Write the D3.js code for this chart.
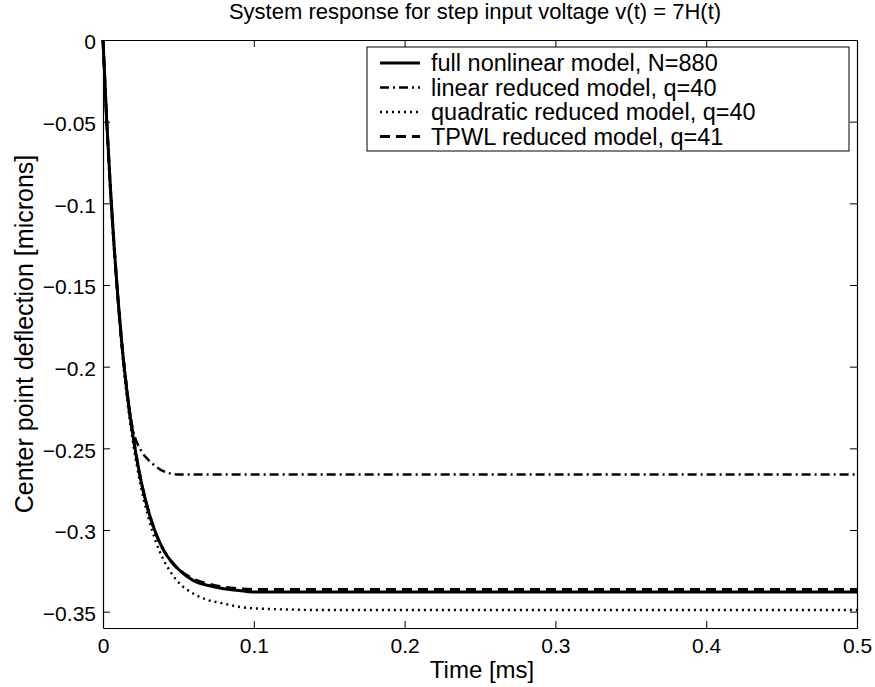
<!DOCTYPE html>
<html>
<head>
<meta charset="utf-8">
<script src="https://cdn.jsdelivr.net/npm/d3@7"></script>
<style>
  body { margin: 0; background: #fff; }
  text { font-family: "Liberation Sans", Arial, sans-serif; fill: #000; }
</style>
</head>
<body>
<div id="chart"></div>
<script>
var width = 875, height = 687;
var margin = {top: 40, right: 18, bottom: 59, left: 103};

// time samples [ms]
var timeMs = [0, 0.0025, 0.005, 0.0075, 0.01, 0.0125, 0.015, 0.0175, 0.02, 0.025, 0.03, 0.035, 0.04, 0.045, 0.05, 0.06, 0.07, 0.08, 0.09, 0.1, 0.15, 0.2, 0.25, 0.3, 0.35, 0.4, 0.45, 0.5];

// center point deflection [microns]
var fullNonlinear = [0, -0.050, -0.092, -0.128, -0.159, -0.186, -0.208, -0.227, -0.243, -0.269, -0.288, -0.302, -0.312, -0.319, -0.324, -0.331, -0.334, -0.336, -0.337, -0.338, -0.338, -0.338, -0.338, -0.338, -0.338, -0.338, -0.338, -0.338];
var linearReduced = [0, -0.050, -0.092, -0.128, -0.159, -0.186, -0.208, -0.226, -0.239, -0.251, -0.257, -0.261, -0.264, -0.2655, -0.266, -0.266, -0.266, -0.266, -0.266, -0.266, -0.266, -0.266, -0.266, -0.266, -0.266, -0.266, -0.266, -0.266];
var quadraticReduced = [0, -0.050, -0.093, -0.130, -0.161, -0.189, -0.212, -0.231, -0.247, -0.273, -0.292, -0.307, -0.318, -0.326, -0.332, -0.339, -0.343, -0.345, -0.347, -0.348, -0.349, -0.349, -0.349, -0.349, -0.349, -0.349, -0.349, -0.349];
var tpwlReduced = [0, -0.050, -0.092, -0.128, -0.159, -0.186, -0.208, -0.227, -0.243, -0.269, -0.288, -0.302, -0.312, -0.319, -0.324, -0.330, -0.333, -0.335, -0.336, -0.3365, -0.3365, -0.3365, -0.3365, -0.3365, -0.3365, -0.3365, -0.3365, -0.3365];

var xTicks = [0, 0.1, 0.2, 0.3, 0.4, 0.5];
var yTicks = [0, -0.05, -0.1, -0.15, -0.2, -0.25, -0.3, -0.35];

var seriesNames = ["full nonlinear model, N=880", "linear reduced model, q=40", "quadratic reduced model, q=40", "TPWL reduced model, q=41"];
var seriesValues = [fullNonlinear, linearReduced, quadraticReduced, tpwlReduced];
var seriesDash = ["none", "9,4,2,4", "2,4", "10,6"];
var seriesWidth = [3, 2.5, 2.4, 3];

var plotW = width - margin.left - margin.right;
var plotH = height - margin.top - margin.bottom;

var xScale = d3.scaleLinear().domain([0, 0.5]).range([0, plotW]);
var yScale = d3.scaleLinear().domain([-0.36, 0]).range([plotH, 0]);

var svg = d3.select("#chart").append("svg")
	.attr("width", width)
	.attr("height", height);

var g = svg.append("g")
	.attr("transform", "translate(" + margin.left + "," + margin.top + ")");

// curves
var line = d3.line()
	.x(function (d) { return xScale(d.t); })
	.y(function (d) { return yScale(d.v); })
	.curve(d3.curveMonotoneX);

seriesValues.forEach(function (vals, k) {
	var pts = timeMs.map(function (t, i) { return {t: t, v: vals[i]}; });
	g.append("path")
		.datum(pts)
		.attr("fill", "none")
		.attr("stroke", "#000")
		.attr("stroke-width", seriesWidth[k])
		.attr("stroke-dasharray", seriesDash[k])
		.attr("d", line);
});

// axes: ticks point inward on all four sides
var fmt = function (d) { return d === 0 ? "0" : d3.format("")(d).replace("-", "\u2212"); };

var xBottom = g.append("g").attr("transform", "translate(0," + plotH + ")")
	.call(d3.axisBottom(xScale).tickValues(xTicks).tickSizeInner(-7).tickSizeOuter(0).tickPadding(10).tickFormat(fmt));
var xTop = g.append("g")
	.call(d3.axisTop(xScale).tickValues(xTicks).tickSizeInner(-7).tickSizeOuter(0).tickFormat(""));
var yLeft = g.append("g")
	.call(d3.axisLeft(yScale).tickValues(yTicks).tickSizeInner(-7).tickSizeOuter(0).tickPadding(7).tickFormat(fmt));
var yRight = g.append("g").attr("transform", "translate(" + plotW + ",0)")
	.call(d3.axisRight(yScale).tickValues(yTicks).tickSizeInner(-7).tickSizeOuter(0).tickFormat(""));

[xBottom, xTop, yLeft, yRight].forEach(function (a) {
	a.select(".domain").attr("stroke", "#000").attr("stroke-width", 1.2);
	a.selectAll(".tick line").attr("stroke", "#000");
	a.selectAll("text")
		.style("font-family", "'Liberation Sans', Arial, sans-serif")
		.style("font-size", "21px")
		.attr("fill", "#000");
});
yLeft.selectAll("text").attr("dy", "0.42em");

// titles
svg.append("text")
	.attr("x", margin.left + plotW / 2 - 5)
	.attr("y", 19)
	.attr("text-anchor", "middle")
	.style("font-size", "22px")
	.text("System response for step input voltage v(t) = 7H(t)");

svg.append("text")
	.attr("x", margin.left + plotW / 2 + 2)
	.attr("y", 678)
	.attr("text-anchor", "middle")
	.style("font-size", "24px")
	.text("Time [ms]");

svg.append("text")
	.attr("transform", "translate(33," + (margin.top + plotH / 2) + ") rotate(-90)")
	.attr("text-anchor", "middle")
	.style("font-size", "25px")
	.text("Center point deflection [microns]");

// legend
var lg = g.append("g").attr("transform", "translate(" + (367 - margin.left) + "," + (47 - margin.top) + ")");
lg.append("rect")
	.attr("width", 482)
	.attr("height", 104)
	.attr("fill", "#fff")
	.attr("stroke", "#000")
	.attr("stroke-width", 1);

seriesNames.forEach(function (name, k) {
	var yy = 16 + k * 24.5;
	lg.append("line")
		.attr("x1", 13).attr("x2", 53)
		.attr("y1", yy).attr("y2", yy)
		.attr("stroke", "#000")
		.attr("stroke-width", seriesWidth[k])
		.attr("stroke-dasharray", seriesDash[k]);
	lg.append("text")
		.attr("x", 64)
		.attr("y", yy + 8)
		.style("font-size", "23.5px")
		.text(name);
});
</script>
</body>
</html>
